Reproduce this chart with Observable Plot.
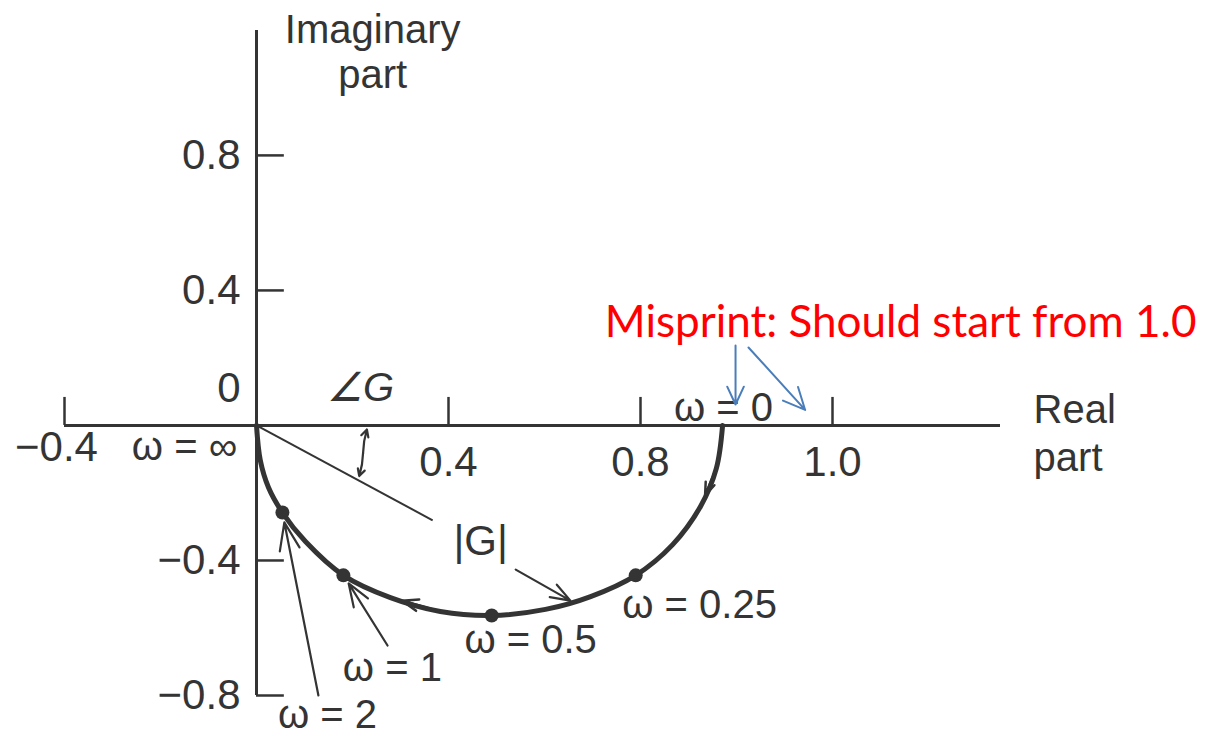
<!DOCTYPE html>
<html>
<head>
<meta charset="utf-8">
<script src="https://cdn.jsdelivr.net/npm/d3@7"></script>
<script src="https://cdn.jsdelivr.net/npm/@observablehq/plot@0.6"></script>
<style>
  html, body { margin: 0; padding: 0; background: #fff; }
  #chart svg { display: block; }
</style>
</head>
<body>
<div id="chart"></div>
<script>
// Polar (Nyquist) plot of a first-order lag G(jω), traced from ω = 0 to ω = ∞.

// Locus points, listed from ω = 0 (right end) to ω = ∞ (origin)
const curveRe = [0.971, 0.958, 0.925, 0.867, 0.790, 0.696, 0.602, 0.490, 0.383, 0.279, 0.181, 0.102, 0.054, 0.025, 0.008, 0];
const curveIm = [0, -0.127, -0.240, -0.353, -0.444, -0.507, -0.545, -0.563, -0.551, -0.510, -0.444, -0.344, -0.258, -0.184, -0.104, 0];

// Frequencies marked with a dot on the locus
const markedOmega = ["0.25", "0.5", "1", "2"];
const markedRe = [0.790, 0.490, 0.181, 0.054];
const markedIm = [-0.444, -0.563, -0.444, -0.258];

// Axes (the printed "1.0" label sits on the fourth tick)
const xTickValues = [-0.4, 0.4, 0.8, 1.2];
const xTickLabels = ["\u22120.4", "0.4", "0.8", "1.0"];
const yTickValues = [0.8, 0.4, -0.4, -0.8];
const yTickLabels = ["0.8", "0.4", "\u22120.4", "\u22120.8"];
const reExtent = [-0.4, 1.55];
const imExtent = [-0.8, 1.17];

// Axis titles
const imagTitle = ["Imaginary", "part"];
const imagTitleRe = 0.242;
const imagTitleIm = [1.170, 1.037];
const realTitle = ["Real", "part"];
const realTitleRe = 1.619;
const realTitleIm = [0.044, -0.098];

// Annotation labels: text and anchor point in the complex plane
const omegaLabelText = ["\u03c9 = 0.25", "\u03c9 = 0.5", "\u03c9 = 1", "\u03c9 = 2", "\u03c9 = 0", "\u03c9 = \u221e"];
const omegaLabelRe = [0.923, 0.571, 0.283, 0.148, 0.973, -0.150];
const omegaLabelIm = [-0.533, -0.637, -0.720, -0.857, 0.050, -0.065];

// Leader arrows to the marked points and the |G| vector
const leaderFrom = [[0.273, -0.652], [0.129, -0.800], [0.540, -0.427]];
const leaderTo = [[0.192, -0.468], [0.058, -0.287], [0.654, -0.519]];
const magnitudeTip = [0.367, -0.281];
// Angle marker between the real axis and |G|
const angleMid = [0.222, -0.082];
const angleEnds = [[0.230, -0.012], [0.214, -0.150]];

// Correction note
const noteText = "Misprint: Should start from 1.0";
const notePos = [1.342, 0.305];
const noteFrom = [[0.998, 0.237], [1.025, 0.231]];
const noteTo = [[0.998, 0.062], [1.143, 0.046]];

const ink = "#343434";
const font = "'Liberation Sans', Arial, Helvetica, sans-serif";
const tickLenRe = 0.058;   // y-axis tick length (real units)
const tickLenIm = 0.083;   // x-axis tick length (imaginary units)

const curve = curveRe.map((re, i) => ({re, im: curveIm[i]}));
const marked = markedOmega.map((w, i) => ({w, re: markedRe[i], im: markedIm[i]}));
const xTicks = xTickValues.map((v, i) => ({v, label: xTickLabels[i]}));
const yTicks = yTickValues.map((v, i) => ({v, label: yTickLabels[i]}));
const omegaLabels = omegaLabelText.map((t, i) => ({t, re: omegaLabelRe[i], im: omegaLabelIm[i]}));
const imagTitles = imagTitle.map((t, i) => ({t, re: imagTitleRe, im: imagTitleIm[i]}));
const realTitles = realTitle.map((t, i) => ({t, re: realTitleRe, im: realTitleIm[i]}));
const leaders = leaderFrom.map((f, i) => ({x1: f[0], y1: f[1], x2: leaderTo[i][0], y2: leaderTo[i][1]}));
const angleArrows = angleEnds.map(e => ({x1: angleMid[0], y1: angleMid[1], x2: e[0], y2: e[1]}));
const noteArrows = noteFrom.map((f, i) => ({x1: f[0], y1: f[1], x2: noteTo[i][0], y2: noteTo[i][1]}));
// direction-of-travel arrowheads laid on two locus segments
const travel = [[1, 2], [8, 9]].map(([a, b]) => ({x1: curveRe[a], y1: curveIm[a], x2: curveRe[b], y2: curveIm[b]}));

const chart = Plot.plot({
  width: 1210,
  height: 736,
  marginLeft: 64,
  marginRight: 210,
  marginTop: 30,
  marginBottom: 41,
  x: {domain: reExtent, axis: null},
  y: {domain: imExtent, axis: null},
  style: {background: "#fff", overflow: "visible"},
  marks: [
    // axes
    Plot.ruleY([0], {x1: reExtent[0], x2: reExtent[1], stroke: ink, strokeWidth: 3}),
    Plot.ruleX([0], {y1: imExtent[0], y2: imExtent[1], stroke: ink, strokeWidth: 3}),
    Plot.ruleX(xTickValues, {x: d => d, y1: 0, y2: tickLenIm, stroke: ink, strokeWidth: 2.5}),
    Plot.ruleY(yTickValues, {y: d => d, x1: 0, x2: tickLenRe, stroke: ink, strokeWidth: 2.5}),
    Plot.text(xTicks.slice(1), {x: "v", y: 0, text: "label", dy: 37, fontSize: 42, fontFamily: font, fill: ink}),
    Plot.text(xTicks.slice(0, 1), {x: "v", y: 0, text: "label", dx: -8, dy: 22, fontSize: 42, fontFamily: font, fill: ink}),
    Plot.text(yTicks, {x: 0, y: "v", text: "label", dx: -16, textAnchor: "end", fontSize: 42, fontFamily: font, fill: ink}),
    Plot.text(["0"], {x: 0, y: 0, text: d => d, dx: -16, dy: -37, textAnchor: "end", fontSize: 42, fontFamily: font, fill: ink}),

    // axis titles
    Plot.text(imagTitles, {x: "re", y: "im", text: "t", fontSize: 40, fontFamily: font, fill: ink}),
    Plot.text(realTitles, {x: "re", y: "im", text: "t", textAnchor: "start", fontSize: 40, fontFamily: font, fill: ink}),

    // |G| vector and angle marker
    Plot.link([magnitudeTip], {x1: 0, y1: 0, x2: d => d[0], y2: d => d[1], stroke: ink, strokeWidth: 2}),
    Plot.arrow(angleArrows, {x1: "x1", y1: "y1", x2: "x2", y2: "y2", bend: 8, headLength: 13, headAngle: 55, stroke: ink, strokeWidth: 2.2}),
    Plot.text(["\u2220G"], {x: 0.217, y: 0.110, text: d => d, fontSize: 40, fontStyle: "italic", fontFamily: font, fill: ink}),
    Plot.text(["|G|"], {x: 0.467, y: -0.344, text: d => d, fontSize: 42, fontFamily: font, fill: ink}),

    // the locus
    Plot.line(curve, {x: "re", y: "im", curve: "catmull-rom", stroke: ink, strokeWidth: 5}),
    Plot.arrow(travel, {x1: "x1", y1: "y1", x2: "x2", y2: "y2", insetEnd: 12, headLength: 24, headAngle: 40, stroke: ink, strokeWidth: 2.5}),
    Plot.dot(marked, {x: "re", y: "im", r: 7, fill: ink}),

    // leaders
    Plot.arrow(leaders, {x1: "x1", y1: "y1", x2: "x2", y2: "y2", headLength: 20, headAngle: 40, stroke: ink, strokeWidth: 2.2}),
    Plot.text(omegaLabels, {x: "re", y: "im", text: "t", fontSize: 40, fontFamily: font, fill: ink}),

    // correction note
    Plot.arrow(noteArrows, {x1: "x1", y1: "y1", x2: "x2", y2: "y2", headLength: 18, headAngle: 50, stroke: "#4a7ebb", strokeWidth: 2}),
    Plot.text([noteText], {x: notePos[0], y: notePos[1], text: d => d, fontSize: 44, fontFamily: "Lato, 'Open Sans', sans-serif", fill: "#ff0000"})
  ]
});

document.getElementById("chart").append(chart);
</script>
</body>
</html>
